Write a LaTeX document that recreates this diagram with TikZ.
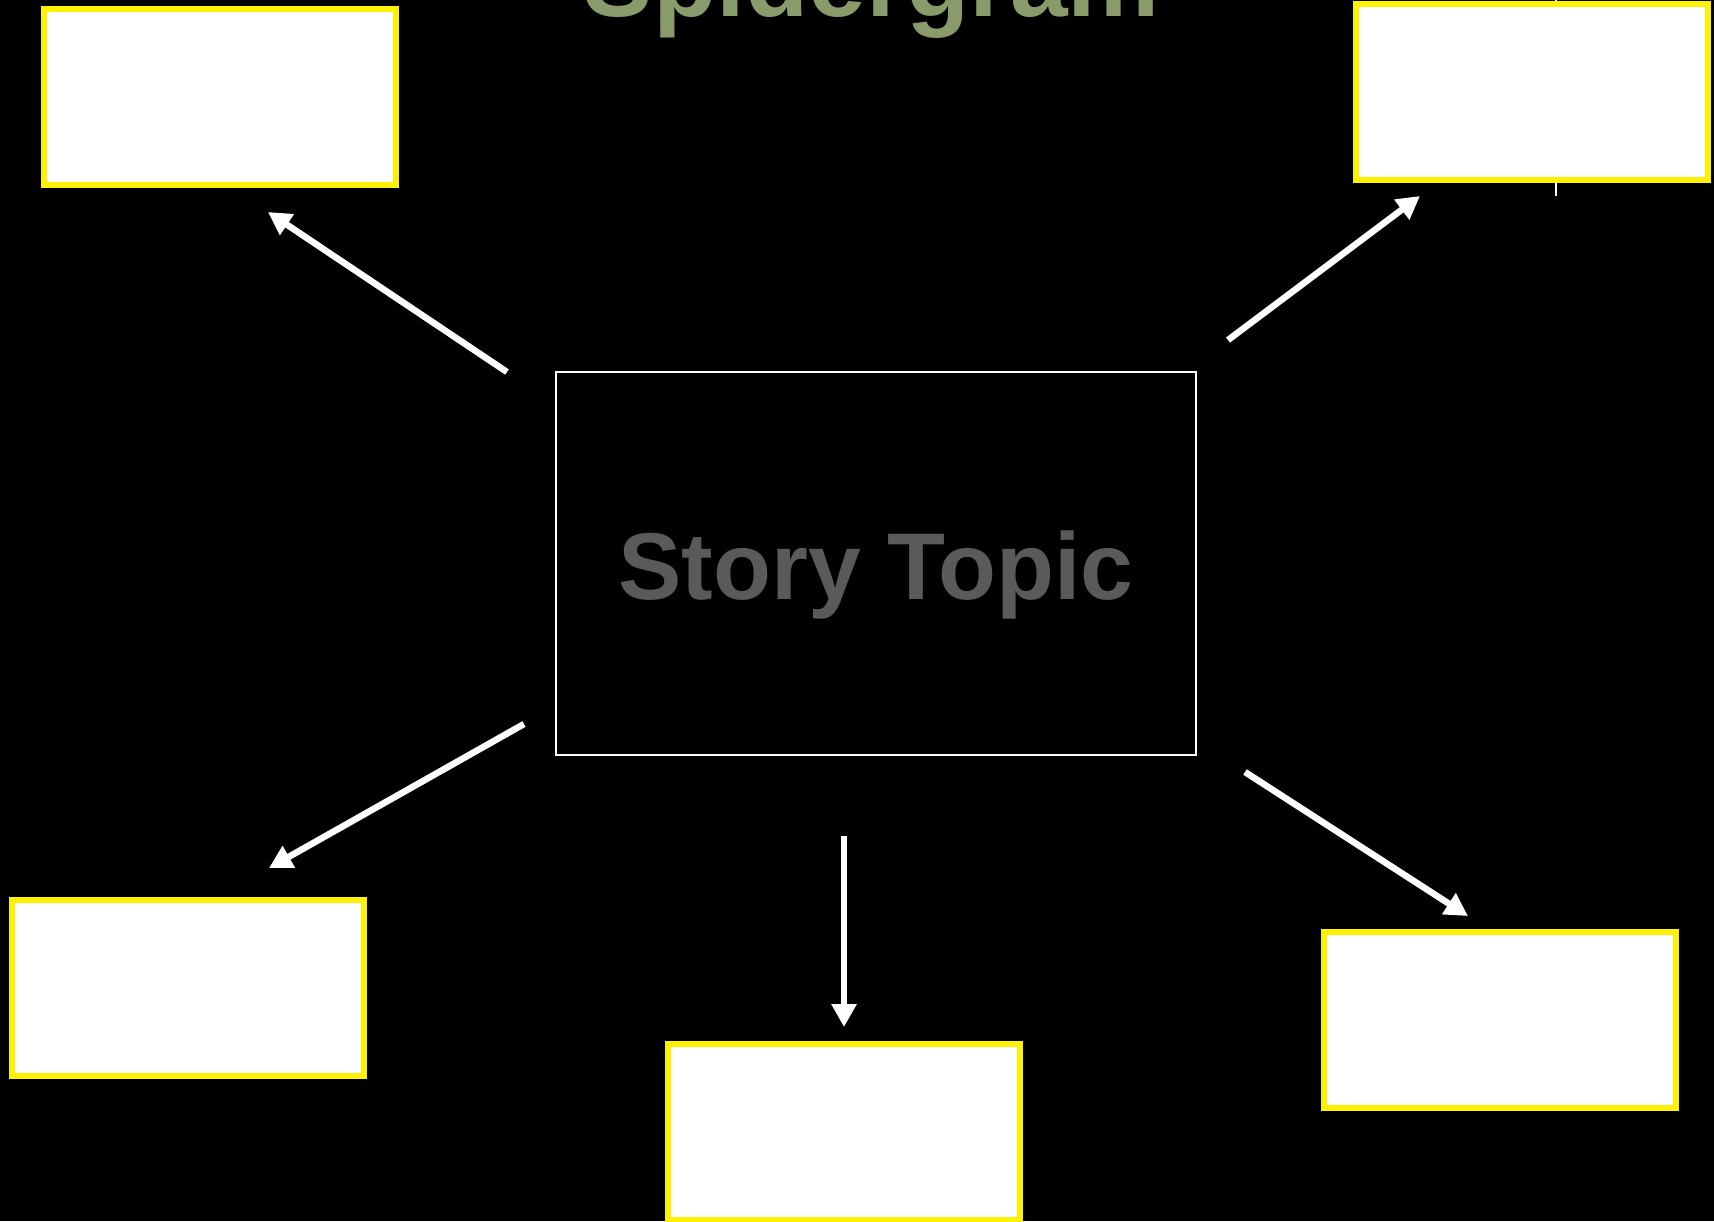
\documentclass[tikz,border=0pt]{standalone}
\usepackage{fontspec}
\setmainfont{Liberation Sans}
\usetikzlibrary{%
  arrows.meta,%
  positioning%
}

\definecolor{titlegreen}{RGB}{137,155,106}
\definecolor{topicgrey}{RGB}{90,90,90}

\begin{document}
\begin{tikzpicture}
  [
  x=0.02cm, y=-0.02cm, font=\bfseries,
  >={Triangle[length=13pt,width=13.6pt]},
  ideabox/.style={rectangle, inner sep=0pt, minimum width=7.04cm, minimum height=3.52cm, draw=yellow, fill=white, line width=0.12cm},
  topicbox/.style={rectangle, inner sep=0pt, minimum width=12.8cm, minimum height=7.66cm, draw=white, line width=0.04cm, text=topicgrey, text height=1.44cm, text depth=0pt, font=\fontsize{54}{60}\selectfont\bfseries},
  spoke/.style={->, draw=white, line width=0.13cm},
  ]

  % page
  \fill[black] (0,0) rectangle (1714,1221);
  \useasboundingbox (0,0) rectangle (1714,1221);

  \node[anchor=base, text=titlegreen, font=\fontsize{59}{66}\selectfont\bfseries] (title) at (872,16) {Spidergram};

  \coordinate (mark1) at (1556,0);
  \coordinate (mark2) at (1556,196);
  \draw[white, line width=0.04cm] (mark1) -- (mark2);

  \foreach \name/\x/\y in {tl/220/97, tr/1532/92, bl/188/988, bc/844/1132, br/1500/1020} {
    \node[ideabox] (\name) at (\x,\y) {};
  }

  \node[topicbox] (topic) at (876,563.5) {Story Topic};

  \foreach \name/\a/\b/\c/\d in {tl/507/372/268/212, tr/1228/340/1420/196, bl/524/724/269/868, bc/844/836/844/1027, br/1245/772/1468/916} {
    \coordinate (\name-from) at (\a,\b);
    \coordinate (\name-to) at (\c,\d);
    \draw[spoke] (\name-from) -- (\name-to);
  }
\end{tikzpicture}
\end{document}
